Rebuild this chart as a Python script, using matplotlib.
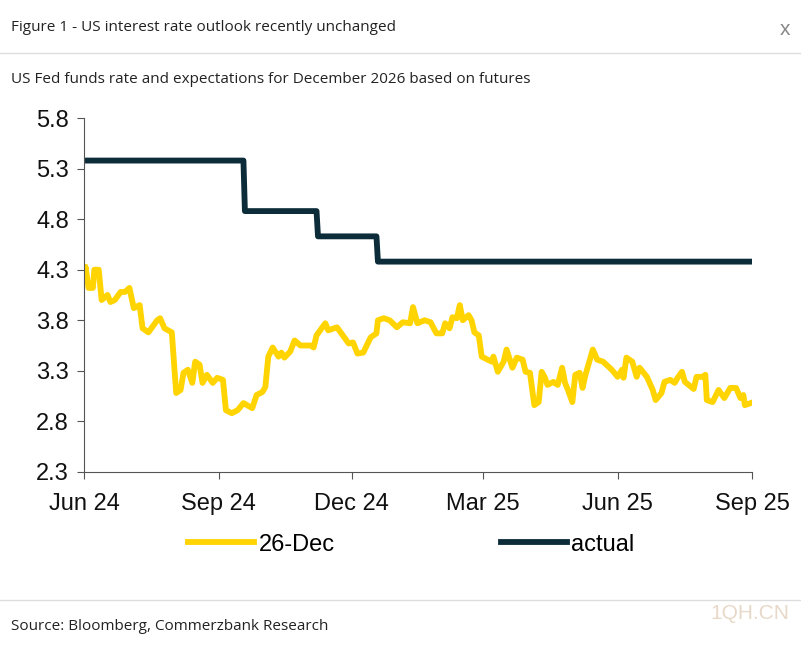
import matplotlib
matplotlib.use("Agg")
import matplotlib.pyplot as plt
import numpy as np
import pandas as pd

start = pd.Timestamp("2024-06-01")
fut_days = [0,1,3,6,7,10,12,16,18,21,25,28,31,34,38,40,44,50,52,55,60,63,66,68,71,74,76,79,81,84,88,91,95,97,101,105,109,115,118,122,124,126,129,133,135,137,141,144,148,155,157,159,165,167,173,177,181,184,187,191,196,200,201,205,209,214,218,223,225,228,233,237,241,245,247,250,252,255,257,259,263,265,267,270,272,276,279,280,283,287,289,293,296,300,302,305,308,311,313,315,317,321,324,327,329,331,334,336,339,341,343,348,351,355,361,365,368,369,371,375,378,380,385,389,391,395,397,401,404,406,409,411,417,419,423,425,426,430,434,438,442,446,449,451,452,456]
fut_vals = [4.25,4.33,4.12,4.12,4.30,4.30,4.00,4.05,3.98,4.00,4.08,4.08,4.12,3.92,3.95,3.72,3.68,3.80,3.82,3.72,3.68,3.08,3.11,3.28,3.31,3.18,3.39,3.36,3.18,3.26,3.18,3.23,3.21,2.91,2.88,2.91,2.98,2.93,3.06,3.09,3.14,3.44,3.53,3.44,3.48,3.43,3.49,3.60,3.55,3.55,3.53,3.65,3.77,3.70,3.73,3.65,3.57,3.58,3.47,3.48,3.63,3.67,3.80,3.82,3.80,3.73,3.78,3.77,3.93,3.77,3.80,3.78,3.67,3.67,3.77,3.72,3.83,3.82,3.95,3.80,3.85,3.80,3.68,3.65,3.44,3.41,3.39,3.44,3.29,3.39,3.51,3.33,3.43,3.41,3.29,3.28,2.96,2.99,3.29,3.24,3.16,3.19,3.16,3.33,3.18,3.11,2.99,3.26,3.28,3.13,3.26,3.51,3.41,3.39,3.31,3.24,3.31,3.23,3.43,3.39,3.24,3.33,3.24,3.11,3.01,3.08,3.19,3.21,3.18,3.23,3.29,3.19,3.12,3.24,3.24,3.26,3.01,2.99,3.11,3.03,3.13,3.13,3.03,3.06,2.96,2.98]
act_dates = ["2024-06-01","2024-09-18","2024-09-19","2024-11-07","2024-11-08","2024-12-18","2024-12-19","2025-08-30"]
act_vals = [5.38,5.38,4.88,4.88,4.63,4.63,4.38,4.38]
yticks = [2.3,2.8,3.3,3.8,4.3,4.8,5.3,5.8]
xtick_dates = ["2024-06-01","2024-09-01","2024-12-01","2025-03-01","2025-06-01","2025-09-01"]
xtick_labels = ["Jun 24","Sep 24","Dec 24","Mar 25","Jun 25","Sep 25"]

fut_x = [start + pd.Timedelta(days=d) for d in fut_days]
act_x = pd.to_datetime(act_dates)

plt.rcParams["font.family"] = "Liberation Sans"
fig = plt.figure(figsize=(8.01,6.49), dpi=100)
ax = fig.add_axes([0.105, 0.273, 0.834, 0.545])
YEL = "#FFD400"; NAVY = "#0C2C3A"
ax.plot(fut_x, fut_vals, color=YEL, lw=4.2, label="26-Dec", solid_joinstyle="round")
ax.plot(act_x, act_vals, color=NAVY, lw=4.2, label="actual")
ax.set_ylim(2.3,5.8)
ax.set_xlim(pd.Timestamp(xtick_dates[0]), pd.Timestamp(xtick_dates[-1]))
ax.set_yticks(yticks)
ax.set_yticklabels([f"{v:.1f}" for v in yticks], fontsize=17, color="#111111")
ax.set_xticks(pd.to_datetime(xtick_dates))
ax.set_xticklabels(xtick_labels, fontsize=17, color="#111111")
for s in ["top","right"]:
    ax.spines[s].set_visible(False)
for s in ["left","bottom"]:
    ax.spines[s].set_color("#555555")
ax.tick_params(axis="both", direction="out", length=5, color="#555555")
ax.tick_params(axis="x", pad=10)
ax.tick_params(axis="y", pad=6)
ax.legend(loc="upper center", bbox_to_anchor=(0.49,-0.115), ncol=2, frameon=False,
          fontsize=17, handlelength=2.8, columnspacing=7, handletextpad=0.2)

fig.text(0.014, 0.958, "Figure 1 - US interest rate outlook recently unchanged", fontsize=11, color="#222222", va="center", family="Open Sans")
fig.text(0.98, 0.955, "x", fontsize=15, color="#888888", va="center", ha="center")
fig.add_artist(plt.Line2D([0,1],[0.918,0.918], color="#dddddd", lw=1))
fig.text(0.014, 0.877, "US Fed funds rate and expectations for December 2026 based on futures", fontsize=11, color="#222222", va="center", family="Open Sans")
fig.add_artist(plt.Line2D([0,1],[0.075,0.075], color="#dddddd", lw=1))
fig.text(0.014, 0.035, "Source: Bloomberg, Commerzbank Research", fontsize=11, color="#222222", va="center", family="Open Sans")
fig.text(0.985, 0.055, "1QH.CN", fontsize=15, color="#e8d8c8", ha="right", va="center")
fig.savefig("out.png", dpi=100)
